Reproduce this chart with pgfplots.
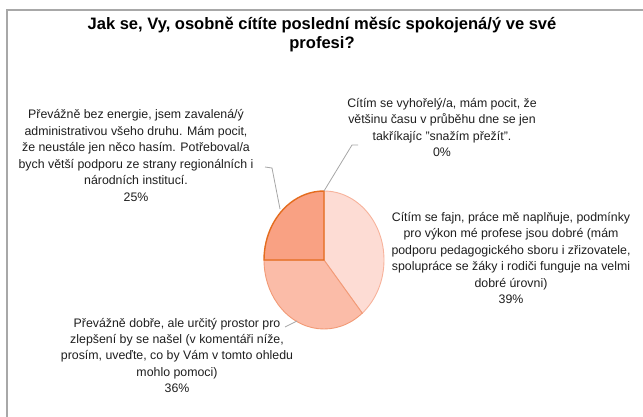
\documentclass[border=0pt]{standalone}
\usepackage{pgfplots}
\pgfplotsset{compat=1.18}
\usepackage{pgfplotstable}
\usepackage{fontspec}
\setmainfont{Liberation Sans}
\definecolor{cA}{HTML}{FDDCD4}
\definecolor{cAl}{HTML}{F7B29B}
\definecolor{cB}{HTML}{FBBCA8}
\definecolor{cBl}{HTML}{F29A76}
\definecolor{cC}{HTML}{F9A183}
\definecolor{cCl}{HTML}{E46C1E}
\definecolor{lead}{HTML}{A6A6A6}
\definecolor{frame}{HTML}{A8A8A8}
\definecolor{txt}{HTML}{1E1E1E}
\pgfplotstableread{
pct
39
36
25
0
}\piedata
\begin{document}
\begin{tikzpicture}
\pgfplotstablegetelem{0}{pct}\of\piedata \edef\pA{\pgfplotsretval}
\pgfplotstablegetelem{1}{pct}\of\piedata \edef\pB{\pgfplotsretval}
\pgfplotstablegetelem{2}{pct}\of\piedata \edef\pC{\pgfplotsretval}
\pgfplotstablegetelem{3}{pct}\of\piedata \edef\pD{\pgfplotsretval}
\pgfmathsetmacro{\aS}{90}
\pgfmathsetmacro{\aA}{\aS-3.6*\pA}
\pgfmathsetmacro{\aB}{\aA-3.6*\pB}
\pgfmathsetmacro{\aC}{\aB-3.6*\pC}
\begin{axis}[width=643bp, height=417bp, scale only axis, at={(0,0)}, anchor=south west,
  xmin=0, xmax=643, ymin=0, ymax=417, y dir=reverse,
  hide axis, clip=false]
% frame
\draw[line width=2.5bp, color=frame] (axis cs:7,417) -- (axis cs:7,10) -- (axis cs:643,10);
% pie slices
\filldraw[fill=cA, draw=cAl, line width=0.9bp] (axis cs:324,260) -- +(\aS:60bp and 69bp)
  arc[start angle=\aS, end angle=\aA, x radius=60bp, y radius=69bp] -- cycle;
\filldraw[fill=cB, draw=cBl, line width=0.9bp] (axis cs:324,260) -- +(\aA:60bp and 69bp)
  arc[start angle=\aA, end angle=\aB, x radius=60bp, y radius=69bp] -- cycle;
\filldraw[fill=cC, draw=cCl, line width=1.4bp] (axis cs:324,260) -- +(\aB:60bp and 69bp)
  arc[start angle=\aB, end angle=\aC, x radius=60bp, y radius=69bp] -- cycle;
% leader lines
\draw[lead, line width=0.8bp] (axis cs:265,167) -- (axis cs:272,168) -- (axis cs:280,209);
\draw[lead, line width=0.8bp] (axis cs:358,145) -- (axis cs:352,145) -- (axis cs:324,191);
\draw[lead, line width=0.8bp] (axis cs:285,327) -- (axis cs:297,321);
% title
\node[align=center, font=\fontsize{16.6}{19}\selectfont\bfseries, text=black] at (axis cs:322,35)
  {Jak se, Vy, osobně cítíte poslední měsíc spokojená/ý ve své\\profesi?};
% labels
\node[align=center, font=\fontsize{12.4}{16.5}\selectfont, text=txt] at (axis cs:136,155.5)
  {Převážně bez energie, jsem zavalená/ý\\administrativou všeho druhu. Mám pocit,\\že neustále jen něco hasím. Potřeboval/a\\bych větší podporu ze strany regionálních i\\národních institucí.\\\pC\%};
\node[align=center, font=\fontsize{12.4}{16.5}\selectfont, text=txt] at (axis cs:442,127.5)
  {Cítím se vyhořelý/a, mám pocit, že\\většinu času v průběhu dne se jen\\takříkajíc "snažím přežít".\\\pD\%};
\node[align=center, font=\fontsize{12.4}{16.5}\selectfont, text=txt] at (axis cs:511,258)
  {Cítím se fajn, práce mě naplňuje, podmínky\\pro výkon mé profese jsou dobré (mám\\podporu pedagogického sboru i zřizovatele,\\spolupráce se žáky i rodiči funguje na velmi\\dobré úrovni)\\\pA\%};
\node[align=center, font=\fontsize{12.4}{16.5}\selectfont, text=txt] at (axis cs:177,355.5)
  {Převážně dobře, ale určitý prostor pro\\zlepšení by se našel (v komentáři níže,\\prosím, uveďte, co by Vám v tomto ohledu\\mohlo pomoci)\\\pB\%};
\end{axis}
\pgfresetboundingbox
\useasboundingbox (0,0) rectangle (643bp,417bp);
\end{tikzpicture}
\end{document}
